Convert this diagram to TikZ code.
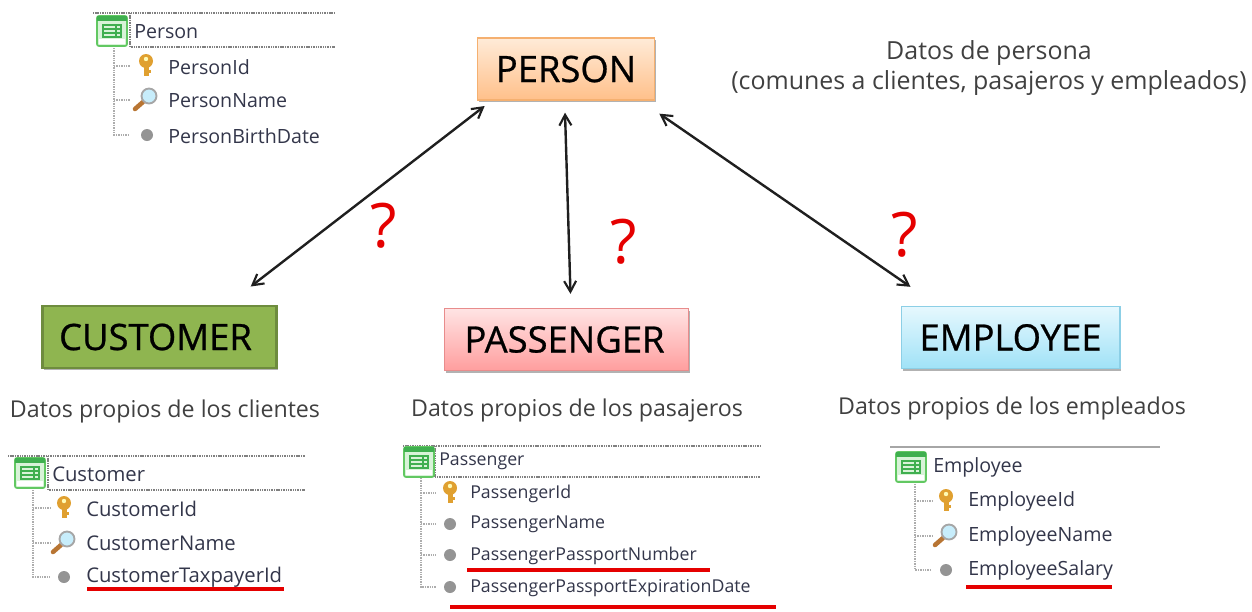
\documentclass[tikz,border=0pt]{standalone}
\usepackage{fontspec}
\setmainfont{Open Sans}
\newfontfamily\boldish[FakeBold=0.7]{Open Sans}
\usetikzlibrary{shadows,arrows.meta}
\definecolor{rowtext}{HTML}{33364A}
\definecolor{custfill}{HTML}{8FB550}
\definecolor{custedge}{HTML}{6E8C3E}
\definecolor{orgtop}{HTML}{FFEBD8}
\definecolor{orgbot}{HTML}{FFC08A}
\definecolor{orgedge}{HTML}{F5B070}
\definecolor{redtop}{HTML}{FFE4E4}
\definecolor{redbot}{HTML}{FF9E9E}
\definecolor{rededge}{HTML}{E88C8C}
\definecolor{blutop}{HTML}{E6F8FE}
\definecolor{blubot}{HTML}{A0E2F7}
\definecolor{bluedge}{HTML}{8CCFE6}
\definecolor{iconedge}{HTML}{62C862}
\definecolor{iconfill}{HTML}{D8F3D8}
\definecolor{icondark}{HTML}{3FAF4F}
\definecolor{keycol}{HTML}{E0A030}
\tikzset{
  x=0.75pt,y=-0.75pt,
  bigbox/.style={draw,minimum height=46.5pt,inner sep=0pt,font=\boldish\fontsize{27.3}{27}\selectfont,text=black,line width=1pt,drop shadow={shadow xshift=1.2pt,shadow yshift=-1.5pt,opacity=0.3,fill=black}},
  arr/.style={{Straight Barb[length=8pt,width=9pt,line width=1.6pt]}-{Straight Barb[length=8pt,width=9pt,line width=1.6pt]},line width=1.8pt,color=black!88},
  note/.style={font=\fontsize{17.4}{23}\selectfont,text=black!75,align=center,inner sep=0pt},
  rowlabel/.style={anchor=west,inner sep=0pt,yshift=-0.5pt,font=\fontsize{14.7}{15}\selectfont,text=rowtext},
  custlabel/.style={rowlabel,font=\fontsize{15.2}{15}\selectfont},
  passlabel/.style={rowlabel,font=\fontsize{13.3}{15}\selectfont},
  qmark/.style={font=\fontsize{46}{46}\selectfont,text=red!90!black,inner sep=0pt},
  dots/.style={draw=black!50,line width=1.4pt,dash pattern=on 0.8pt off 0.5pt},
  treeline/.style={draw=black!32,line width=1.2pt,dash pattern=on 1pt off 0.8pt},
  redline/.style={draw=red!90!black,line width=2.8pt},
  dotmark/.style={circle,fill=black!42,minimum size=9pt,inner sep=0pt},
}
\newcommand{\tableicon}[2]{% centre x,y
  \begin{scope}[shift={(#1,#2)}]
    \draw[iconedge,line width=1.3pt,rounded corners=1.5pt,fill=iconfill] (-15,-15) rectangle (15,15);
    \fill[icondark] (-15,-15) rectangle (15,-10);
    \fill[white] (-13,8) rectangle (13,13);
    \draw[icondark,line width=0.8pt] (-9,-6) rectangle (9,6) (-9,-2) -- (9,-2) (-9,2) -- (9,2) (4,-6) -- (4,6);
  \end{scope}}
\newcommand{\keyicon}[2]{%
  \begin{scope}[shift={(#1,#2)}]
    \fill[keycol] (0,-4) circle (7);
    \fill[keycol] (-2.5,-1) rectangle (2.5,11);
    \fill[keycol] (2.5,5) rectangle (4.5,8);
    \fill[white!70!yellow] (0,-6) circle (2.2);
  \end{scope}}
\newcommand{\magicon}[2]{%
  \begin{scope}[shift={(#1,#2)}]
    \draw[orange!65!black!80,line width=3.4pt,line cap=round] (-11,10) -- (-3,3);
    \draw[black!35,line width=1.4pt,fill=cyan!22!white] (3,-3) circle (7.5);
  \end{scope}}
\begin{document}
\begin{tikzpicture}
\useasboundingbox (0,0) rectangle (1252,611);
% main boxes
\node[bigbox,draw=orgedge,top color=orgtop,bottom color=orgbot,minimum width=133pt] (person) at (566,69) {PERSON};
\node[bigbox,draw=custedge,fill=custfill,line width=2.2pt,minimum width=176pt] (customer) at (159.5,337) {\kern-6pt CUSTOMER};
\node[bigbox,draw=rededge,top color=redtop,bottom color=redbot,minimum width=183pt] (passenger) at (566.5,339.5) {\kern-3pt PASSENGER};
\node[bigbox,draw=bluedge,top color=blutop,bottom color=blubot,minimum width=164pt] (employee) at (1010.5,337.5) {EMPLOYEE};
% connectors
\draw[arr] ([xshift=6pt,yshift=-4pt]person.south west) -- ([xshift=157.5pt,yshift=13.5pt]customer.north west);
\draw[arr] ([xshift=-0.75pt,yshift=-9pt]person.south) -- ([xshift=3pt,yshift=10.5pt]passenger.north);
\draw[arr] ([xshift=3pt,yshift=-9.75pt]person.south east) -- ([xshift=7.5pt,yshift=14.25pt]employee.north west);
% notes
\node[note,font=\fontsize{18.7}{23}\selectfont] (n1) at (989,68) {Datos de persona\\(comunes a clientes, pasajeros y empleados)};
\node[note] (n2) at (165,411) {Datos propios de los clientes};
\node[note] (n3) at (577,410) {Datos propios de los pasajeros};
\node[note] (n4) at (1012,408) {Datos propios de los empleados};
\node[qmark] (q1) at (384,226) {?};
\node[qmark] (q2) at (624,242) {?};
\node[qmark] (q3) at (905,235) {?};
% Person tree
\draw[treeline] (114,48) -- (114,135) -- (130,135) (114,66) -- (130,66) (114,100) -- (130,100);
\draw[dots] (93,13) -- (335,13) (130,13) -- (130,47) -- (335,47);
\tableicon{112}{31}
\node[rowlabel] (tp) at (134,31) {Person};
\keyicon{146}{65} \node[rowlabel] (tp1) at (168,66) {PersonId};
\magicon{146}{99} \node[rowlabel] (tp2) at (168,100) {PersonName};
\node[dotmark] (dp3) at (147,135) {}; \node[rowlabel] (tp3) at (168,135) {PersonBirthDate};
% Customer tree
\draw[treeline] (33,490) -- (33,577) -- (50,577) (33,508) -- (50,508) (33,543) -- (50,543);
\draw[dots] (8,456) -- (305,456) (48,456) -- (48,490) -- (305,490);
\tableicon{30}{473}
\node[custlabel] (tc) at (52,474) {Customer};
\keyicon{64}{507} \node[custlabel] (tc1) at (86,508) {CustomerId};
\magicon{64}{542} \node[custlabel] (tc2) at (86,543) {CustomerName};
\node[dotmark] (dc3) at (64,577) {}; \node[custlabel] (tc3) at (86,577) {CustomerTaxpayerId};
\draw[redline] (87,589) -- (284,589);
% Passenger tree
\draw[treeline] (421,478) -- (421,587) -- (436,587) (421,493) -- (436,493) (421,524) -- (436,524) (421,555) -- (436,555);
\draw[dots] (403,446) -- (761,446) (435,446) -- (435,477) -- (761,477);
\tableicon{419}{462}
\node[passlabel] (tq) at (439,461) {Passenger};
\keyicon{450}{492} \node[passlabel] (tq1) at (470,493) {PassengerId};
\node[dotmark] (dq2) at (450,524) {}; \node[passlabel] (tq2) at (470,524) {PassengerName};
\node[dotmark] (dq3) at (450,555) {}; \node[passlabel] (tq3) at (470,555) {PassengerPassportNumber};
\node[dotmark] (dq4) at (450,587) {}; \node[passlabel] (tq4) at (470,587) {PassengerPassportExpirationDate};
\draw[redline] (467,570) -- (710,570);
\draw[redline] (450,607) -- (776,607);
% Employee tree
\draw[treeline] (915,484) -- (915,570) -- (932,570) (915,501) -- (932,501) (915,536) -- (932,536);
\draw[draw=black!35,line width=1pt] (890,447) -- (1160,447);
\tableicon{911}{467}
\node[rowlabel] (te) at (933,467) {Employee};
\keyicon{946}{500} \node[rowlabel] (te1) at (968,501) {EmployeeId};
\magicon{946}{535} \node[rowlabel] (te2) at (968,536) {EmployeeName};
\node[dotmark] (de3) at (946,570) {}; \node[rowlabel] (te3) at (968,570) {EmployeeSalary};
\draw[redline] (966,587) -- (1112,587);
\end{tikzpicture}
\end{document}
